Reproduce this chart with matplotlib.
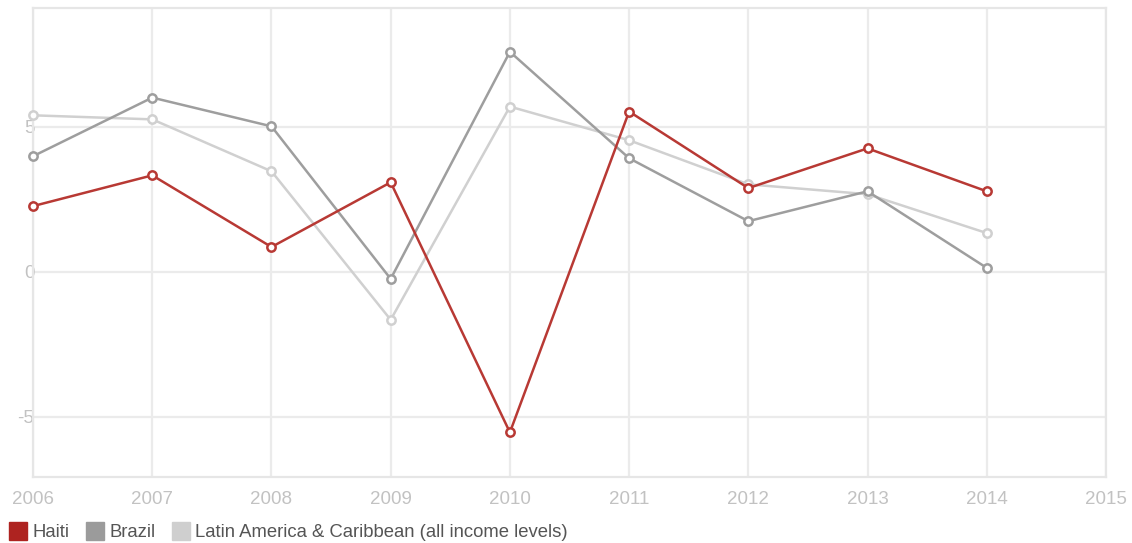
import numpy as np
import matplotlib.pyplot as plt
from matplotlib.lines import Line2D

plt.rcParams['font.family'] = ['Liberation Sans', 'DejaVu Sans']
plt.rcParams['axes.unicode_minus'] = False

#################
# data
years = [2006, 2007, 2008, 2009, 2010, 2011, 2012, 2013, 2014]
haiti = [2.27, 3.33, 0.86, 3.09, -5.53, 5.53, 2.89, 4.26, 2.78]
brazil = [3.99, 6.01, 5.02, -0.24, 7.59, 3.92, 1.75, 2.78, 0.14]
latam = [5.40, 5.26, 3.47, -1.65, 5.70, 4.54, 3.02, 2.68, 1.34]

x_ticks = list(range(2006, 2016))
y_ticks = [-5, 0, 5]
################

fig = plt.figure(figsize=(11.32, 5.43), dpi=100)
ax = fig.add_axes([0.0292, 0.1215, 0.9478, 0.8638])

grid_col = '#ebebeb'
for s in ax.spines.values():
    s.set_color('#e6e6e6')
    s.set_linewidth(1.6)

ax.set_xlim(2006, 2015)
ax.set_ylim(-7.07, 9.10)
ax.set_xticks(x_ticks)
ax.set_yticks(y_ticks)
ax.grid(True, color=grid_col, linewidth=1.6)
ax.set_axisbelow(True)
ax.tick_params(length=0, colors='#c2c2c2', labelsize=13.5)
ax.tick_params(axis='x', pad=10)
ax.tick_params(axis='y', pad=-1)

series = [
    (latam, '#d0d0d0', 'Latin America & Caribbean (all income levels)'),
    (brazil, '#9e9e9e', 'Brazil'),
    (haiti, '#b83934', 'Haiti'),
]
for vals, col, lab in series:
    ax.plot(years, vals, color=col, linewidth=1.8, marker='o', markersize=6,
            markerfacecolor='white', markeredgecolor=col, markeredgewidth=1.8,
            clip_on=False, zorder=3)

# legend along the bottom
handles = [Line2D([], [], linestyle='none', marker='s', markersize=13,
                  color=c, markeredgecolor=c) for c in ['#ae2320', '#9b9b9b', '#cfcfcf']]
labels = ['Haiti', 'Brazil', 'Latin America & Caribbean (all income levels)']
leg = fig.legend(handles, labels, loc='lower left', bbox_to_anchor=(-0.006, -0.027),
                 ncol=3, frameon=False, fontsize=13.3, handletextpad=0.35,
                 columnspacing=0.9, handlelength=0.9)
for t in leg.get_texts():
    t.set_color('#555555')

fig.savefig('out.png', dpi=100)
